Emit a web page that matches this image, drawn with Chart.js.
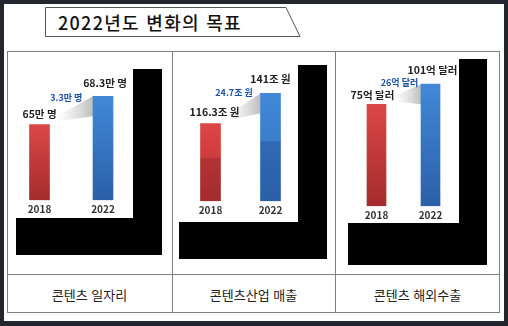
<!DOCTYPE html>
<html lang="ko">
<head>
<meta charset="utf-8">
<script src="https://cdn.jsdelivr.net/npm/chart.js@4.4.1/dist/chart.umd.min.js"></script>
<style>
  body { margin: 0; width: 508px; height: 326px; background: #23262e; position: relative; overflow: hidden; font-family: 'Noto Sans CJK KR', sans-serif; }
  #sheet { position: absolute; left: 4px; top: 4px; width: 500px; height: 317px; background: #fff; }
  svg, canvas { position: absolute; left: 0; top: 0; }
</style>
</head>
<body>
<div id="sheet"></div>
<svg width="508" height="326">
  <!-- title tab -->
  <polygon points="45.5,7.5 286,7.5 300,36.5 45.5,36.5" fill="#fff" stroke="#555" stroke-width="1"/>
  <text x="58" y="22" dominant-baseline="central" font-family="Noto Sans CJK KR" font-size="18" font-weight="500" letter-spacing="1.3" fill="#111">2022년도 변화의 목표</text>

  <!-- black frames behind each card -->
  <g fill="#000">
    <rect x="133" y="69" width="29" height="186"/>
    <rect x="16" y="218" width="146" height="37"/>
    <rect x="298" y="65" width="29" height="194"/>
    <rect x="179" y="222" width="148" height="37"/>
    <rect x="459" y="59" width="28" height="206"/>
    <rect x="348" y="223" width="139" height="42"/>
  </g>

  <!-- table lines -->
  <g stroke="#808080" stroke-width="1" fill="none">
    <rect x="7.5" y="51.5" width="492" height="261"/>
    <line x1="7.5" y1="274.5" x2="499.5" y2="274.5"/>
    <line x1="172.5" y1="51.5" x2="172.5" y2="312.5"/>
    <line x1="335.5" y1="51.5" x2="335.5" y2="312.5"/>
  </g>
  <g id="captions" font-family="Noto Sans CJK KR" font-size="13" fill="#222" text-anchor="middle" dominant-baseline="central"></g>
</svg>
<canvas id="c0" width="165" height="223" style="left:7px;top:51px"></canvas>
<canvas id="c1" width="163" height="223" style="left:172px;top:51px"></canvas>
<canvas id="c2" width="165" height="223" style="left:335px;top:51px"></canvas>
<script>
const years = ['2018', '2022'];
const titles = ['콘텐츠 일자리', '콘텐츠산업 매출', '콘텐츠 해외수출'];
const units = ['만 명', '조 원', '억 달러'];
const jobs = [65, 68.3];
const sales = [116.3, 141];
const exports = [75, 101];
const series = [jobs, sales, exports];

// per-card scale range and placement
const yRange = [[56.16, 72.54], [52.9, 168.17], [-56.3, 132.2]];
const pads = [
  { top: 9, bottom: 55.8, left: 0.75, right: 37.25 },
  { top: 9, bottom: 54.8, left: 8.5, right: 34.5 },
  { top: 9, bottom: 49.8, left: 14.5, right: 42.5 },
];
const thickness = [20, 20, 19];
const captionX = [89.5, 253.5, 417.5];
// label nudges: [dx, dy] for 2018 label, 2022 label, difference label
const nudges = [
  [[0, -11], [2, -13], [-5, 1]],
  [[4, -12], [0, -14], [-6.5, -1]],
  [[-4, -9], [2, -14], [-4, -2]],
];

const cap = document.getElementById('captions');
titles.forEach((t, i) => {
  const el = document.createElementNS('http://www.w3.org/2000/svg', 'text');
  el.setAttribute('x', captionX[i]);
  el.setAttribute('y', 294);
  el.textContent = t;
  cap.appendChild(el);
});

function barFill(ctx, split) {
  const chart = ctx.chart;
  const area = chart.chartArea;
  if (!area) return '#c33';
  const top = chart.scales.y.getPixelForValue(ctx.raw);
  const g = chart.ctx.createLinearGradient(0, top, 0, area.bottom);
  const red = ctx.dataIndex === 0;
  const hi = red ? '#dc4747' : '#4189d8';
  const lo = red ? '#a42c2c' : '#2b5fa8';
  if (split) {
    g.addColorStop(0, hi);
    g.addColorStop(0.44, red ? '#cf3c3c' : '#3a7ecc');
    g.addColorStop(0.45, red ? '#b33232' : '#3169b4');
    g.addColorStop(1, lo);
  } else {
    g.addColorStop(0, hi);
    g.addColorStop(1, lo);
  }
  return g;
}

const barNotes = {
  id: 'barNotes',
  beforeDatasetsDraw(chart) {
    const [red, blue] = chart.getDatasetMeta(0).data;
    const ctx = chart.ctx;
    const x0 = red.x + 17;
    const x1 = blue.x - blue.width / 2;
    const g = ctx.createLinearGradient(x0, 0, x1, 0);
    g.addColorStop(0, 'rgba(215,215,215,0)');
    g.addColorStop(1, 'rgba(185,185,185,0.95)');
    ctx.save();
    ctx.fillStyle = g;
    ctx.beginPath();
    ctx.moveTo(x0, red.y - 8);
    ctx.lineTo(x1, blue.y);
    ctx.lineTo(x1, blue.y + 20);
    ctx.lineTo(x0, red.y - 3);
    ctx.closePath();
    ctx.fill();
    ctx.restore();
  },
  afterDatasetsDraw(chart, args, opts) {
    const meta = chart.getDatasetMeta(0);
    const data = chart.data.datasets[0].data;
    const nd = opts.nudge;
    const ctx = chart.ctx;
    ctx.save();
    ctx.textAlign = 'center';
    ctx.textBaseline = 'middle';
    ctx.font = 'bold 10.5px "Noto Sans CJK KR"';
    ctx.fillStyle = '#222';
    meta.data.forEach((bar, i) => {
      ctx.fillText(data[i] + opts.unit, bar.x + nd[i][0], bar.y + nd[i][1]);
    });
    const [red, blue] = meta.data;
    const gap = Number((data[1] - data[0]).toFixed(1));
    ctx.font = 'bold 9px "Noto Sans CJK KR"';
    ctx.fillStyle = '#1d4fa8';
    ctx.fillText(gap + opts.unit, (red.x + blue.x) / 2 + nd[2][0], blue.y + nd[2][1]);
    ctx.restore();
  }
};

series.forEach((vals, i) => {
  new Chart(document.getElementById('c' + i), {
    type: 'bar',
    data: {
      labels: years,
      datasets: [{
        data: vals,
        base: yRange[i][0],
        barThickness: thickness[i],
        backgroundColor: (ctx) => barFill(ctx, i === 1),
        borderWidth: 0,
      }],
    },
    options: {
      responsive: false,
      animation: false,
      layout: { padding: pads[i] },
      plugins: {
        legend: { display: false },
        tooltip: { enabled: false },
        barNotes: { unit: units[i], nudge: nudges[i] },
      },
      scales: {
        x: {
          grid: { display: false, drawTicks: false },
          border: { display: false },
          ticks: { color: '#333', padding: 3, font: { family: 'Noto Sans CJK KR', size: 10, weight: 'bold' } },
        },
        y: {
          display: false,
          min: yRange[i][0],
          max: yRange[i][1],
        },
      },
    },
    plugins: [barNotes],
  });
});
</script>
</body>
</html>
